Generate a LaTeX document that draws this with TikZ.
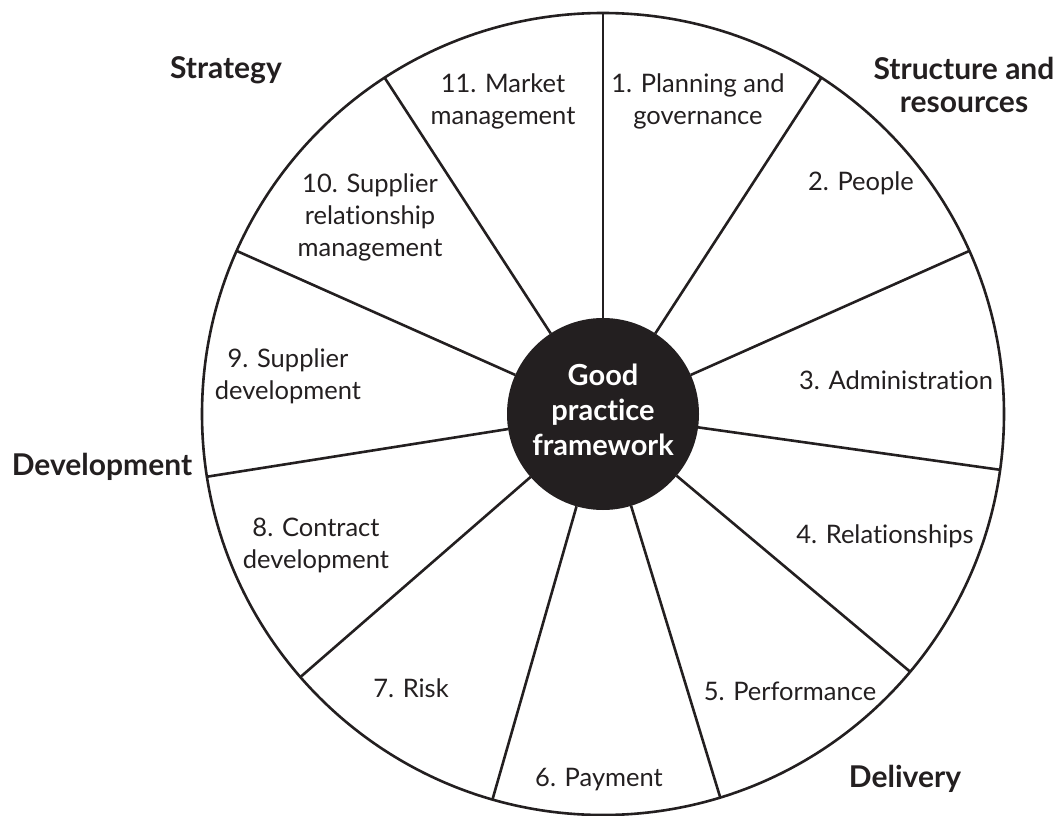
\documentclass[tikz,border=0pt]{standalone}
\usepackage{fontspec}
\setmainfont{Lato}[Ligatures=NoCommon]
\definecolor{ink}{RGB}{35,31,32}
\begin{document}
\begin{tikzpicture}[x=1pt,y=-1pt,
  seglabel/.style={font=\fontsize{25.5}{32}\selectfont, align=center, text=ink, inner sep=0pt},
  grouplabel/.style={font=\fontsize{30}{33}\selectfont\bfseries, align=center, text=ink, inner sep=0pt},
  spoke/.style={draw=ink, line width=2.6pt},
  ]
\useasboundingbox (0,0) rectangle (1061,816);

% outer wheel and hub
\node[circle, draw=ink, line width=2.6pt, minimum size=802pt, inner sep=0pt, outer sep=0pt] (wheel) at (603,414) {};
\node[circle, fill=ink, minimum size=192pt, inner sep=0pt, outer sep=0pt] (hub) at (603,414) {};
\node[font=\fontsize{29}{35}\selectfont\bfseries, text=white, align=center, inner sep=0pt] (hubtext) at (603,410) {Good\\practice\\framework};

% eleven equal spokes, the first one straight up
\foreach \k in {0,...,10} {
  \draw[spoke] (hub.{90-\k*360/11}) -- (wheel.{90-\k*360/11});
}

% segment labels
\node[seglabel] (s1)  at (698,101) {1. Planning and\\governance};
\node[seglabel] (s2)  at (861,183) {2. People};
\node[seglabel] (s3)  at (896,380) {3. Administration};
\node[seglabel] (s4)  at (885,536) {4. Relationships};
\node[seglabel] (s5)  at (790,691) {5. Performance};
\node[seglabel] (s6)  at (599,780) {6. Payment};
\node[seglabel] (s7)  at (411,688) {7. Risk};
\node[seglabel] (s8)  at (316,545) {8. Contract\\development};
\node[seglabel] (s9)  at (288,376) {9. Supplier\\development};
\node[seglabel] (s10) at (370,217) {10. Supplier\\relationship\\management};
\node[seglabel] (s11) at (503,101) {11. Market\\management};

% group labels around the wheel
\node[grouplabel] (gstrat) at (226,70)  {Strategy};
\node[grouplabel] (gstruc) at (964,85)  {Structure and\\resources};
\node[grouplabel] (gdev)   at (102,467) {Development};
\node[grouplabel] (gdel)   at (905,779) {Delivery};
\end{tikzpicture}
\end{document}
